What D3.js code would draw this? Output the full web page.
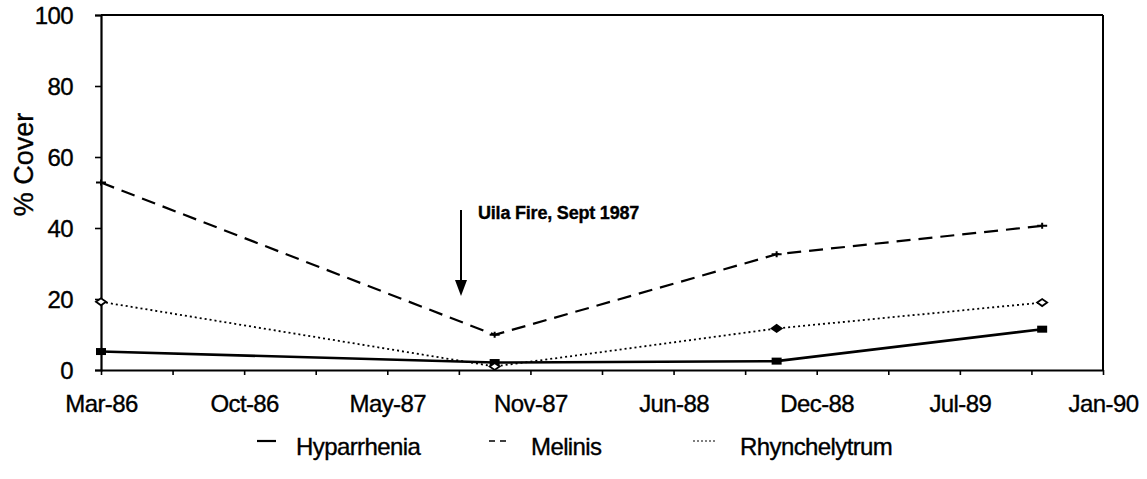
<!DOCTYPE html>
<html>
<head>
<meta charset="utf-8">
<script src="https://cdn.jsdelivr.net/npm/d3@7"></script>
<style>
  html, body { margin: 0; padding: 0; background: #fff; }
  svg { display: block; }
  text { font-family: "Liberation Sans", Arial, sans-serif; fill: #000; stroke: #000; stroke-width: 0.35px; }
</style>
</head>
<body>
<svg id="chart" width="1147" height="479"></svg>
<script>
// ---- data ----
const sampleDates = ["1986-03-31", "1987-10-02", "1988-10-30", "1989-11-05"];
const hyparrhenia = [5.2, 2.1, 2.5, 11.5];
const melinis = [52.8, 9.9, 32.6, 40.6];
const rhynchelytrum = [19.2, 1.0, 11.7, 19.0];
const seriesNames = ["Hyparrhenia", "Melinis", "Rhynchelytrum"];
const yTicks = [0, 20, 40, 60, 80, 100];
const xTickLabels = ["Mar-86", "Oct-86", "May-87", "Nov-87", "Jun-88", "Dec-88", "Jul-89", "Jan-90"];
const axisStart = "1986-03-31";
const minorDays = 100;
const minorCount = 14;
const fireDate = "1987-08-16";
const fireLabel = "Uila Fire, Sept 1987";
const yTitle = "% Cover";

(function () {
// ---- layout ----
const svg = d3.select("#chart");
const mL = 101, mR = 1103, mT = 15, mB = 370;
const parse = d3.utcParse("%Y-%m-%d");
const t0 = parse(axisStart);
const t1 = d3.utcDay.offset(t0, minorDays * minorCount);
const x = d3.scaleUtc().domain([t0, t1]).range([mL, mR]);
const y = d3.scaleLinear().domain([0, 100]).range([mB, mT]);

const tickDates = d3.range(minorCount + 1).map(i => d3.utcDay.offset(t0, i * minorDays));

// frame top and right
svg.append("line").attr("x1", mL).attr("x2", mR).attr("y1", mT).attr("y2", mT)
  .attr("stroke", "#000").attr("stroke-width", 2);
svg.append("line").attr("x1", mR).attr("x2", mR).attr("y1", mT).attr("y2", mB)
  .attr("stroke", "#000").attr("stroke-width", 2);

// y axis
const yAxis = svg.append("g").attr("transform", `translate(${mL},0)`)
  .call(d3.axisLeft(y).tickValues(yTicks).tickSize(6).tickPadding(22).tickFormat(d3.format("d")));
yAxis.select(".domain").attr("stroke-width", 2.2);
yAxis.selectAll(".tick line").attr("stroke-width", 1.6);
yAxis.selectAll("text").attr("font-size", 24).attr("letter-spacing", "-0.6px")
  .attr("font-family", "Liberation Sans, Arial, sans-serif").attr("dy", "0.36em");

// x axis
const xAxis = svg.append("g").attr("transform", `translate(0,${mB})`)
  .call(d3.axisBottom(x).tickValues(tickDates).tickSize(5).tickSizeOuter(0).tickPadding(20)
    .tickFormat((d, i) => i % 2 === 0 ? xTickLabels[i / 2] : ""));
xAxis.select(".domain").attr("stroke-width", 2.2);
xAxis.selectAll(".tick line").attr("stroke-width", 1.6);
xAxis.selectAll("text").attr("font-size", 24).attr("letter-spacing", "-0.6px")
  .attr("font-family", "Liberation Sans, Arial, sans-serif").attr("dy", "0.71em");

// y title
svg.append("text")
  .attr("transform", `translate(33,${(mT + mB) / 2 - 28}) rotate(-90)`)
  .attr("text-anchor", "middle").attr("font-size", 27).text(yTitle);

// series
const dates = sampleDates.map(parse);
const series = [
  { name: seriesNames[0], values: hyparrhenia, dash: null, width: 2.6 },
  { name: seriesNames[1], values: melinis, dash: "14,8", width: 2.2 },
  { name: seriesNames[2], values: rhynchelytrum, dash: "2,3", width: 1.8 }
];
const line = d3.line().x(d => x(d[0])).y(d => y(d[1]));
series.forEach(s => {
  const pts = dates.map((d, i) => [d, s.values[i]]);
  svg.append("path").datum(pts).attr("d", line).attr("fill", "none")
    .attr("stroke", "#000").attr("stroke-width", s.width)
    .attr("stroke-dasharray", s.dash);
});

// markers
const hyp = dates.map((d, i) => [d, hyparrhenia[i]]);
svg.selectAll(".mh").data(hyp).enter().append("rect")
  .attr("x", d => x(d[0]) - 5).attr("y", d => y(d[1]) - 3.5)
  .attr("width", 10).attr("height", 7).attr("fill", "#000");
const mel = dates.map((d, i) => [d, melinis[i]]);
svg.selectAll(".mm").data(mel).enter().append("path")
  .attr("d", d => `M${x(d[0]) - 5},${y(d[1])}H${x(d[0]) + 5}M${x(d[0])},${y(d[1]) - 3}V${y(d[1]) + 3}`)
  .attr("stroke", "#000").attr("stroke-width", 2).attr("fill", "none");
const rhy = dates.map((d, i) => [d, rhynchelytrum[i]]);
svg.selectAll(".mr").data(rhy).enter().append("path")
  .attr("d", d => `M${x(d[0]) - 5},${y(d[1])}L${x(d[0])},${y(d[1]) - 3.5}L${x(d[0]) + 5},${y(d[1])}L${x(d[0])},${y(d[1]) + 3.5}Z`)
  .attr("stroke", "#000").attr("stroke-width", 1.8).attr("fill", (d, i) => i === 2 ? "#000" : "#fff");

// annotation arrow
const fx = x(parse(fireDate));
svg.append("line").attr("x1", fx).attr("x2", fx).attr("y1", 210).attr("y2", 283)
  .attr("stroke", "#000").attr("stroke-width", 2);
svg.append("path").attr("d", `M${fx - 6},280L${fx + 6},280L${fx},296Z`).attr("fill", "#000");
svg.append("text").attr("x", fx + 17).attr("y", 219).attr("font-size", 18)
  .attr("font-weight", "bold").attr("letter-spacing", "-0.2px").text(fireLabel);

// legend
const legend = [
  { name: seriesNames[0], dash: null, x1: 257, x2: 276, tx: 296, w: 2.2 },
  { name: seriesNames[1], dash: "6,5", x1: 489, x2: 511, tx: 531, w: 1.6 },
  { name: seriesNames[2], dash: "2,2", x1: 693, x2: 716, tx: 740, w: 1.2 }
];
legend.forEach(l => {
  svg.append("line").attr("x1", l.x1).attr("x2", l.x2).attr("y1", 441).attr("y2", 441)
    .attr("stroke", "#000").attr("stroke-width", l.w).attr("stroke-dasharray", l.dash);
  svg.append("text").attr("x", l.tx).attr("y", 455).attr("font-size", 24)
    .attr("letter-spacing", "-0.6px").text(l.name);
});
})();
</script>
</body>
</html>
